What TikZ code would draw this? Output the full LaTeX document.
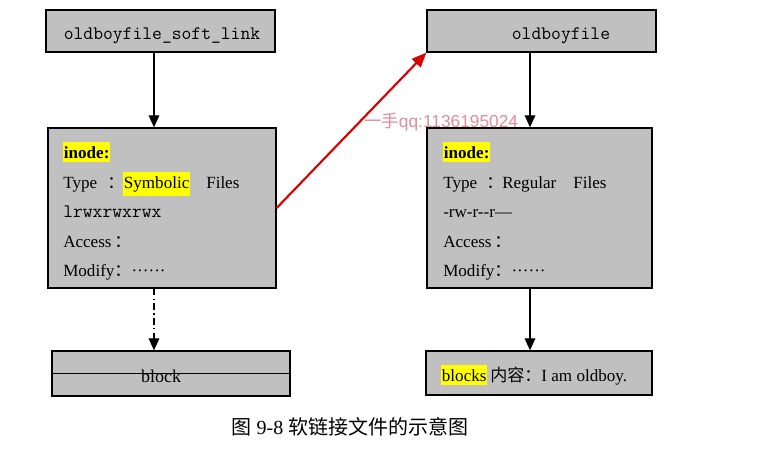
\documentclass[tikz,border=0pt]{standalone}
\usepackage{fontspec}
\setmainfont{Liberation Serif}
\newfontfamily\cjk{Noto Sans CJK SC}
\newfontfamily\wmfont{Liberation Sans}
\usetikzlibrary{arrows.meta}
\definecolor{boxgray}{RGB}{192,192,192}
\definecolor{wmpink}{RGB}{224,140,155}
\definecolor{hl}{RGB}{255,255,0}
\tikzset{
  box/.style={draw=black, line width=1pt, fill=boxgray, inner sep=0pt},
  arr/.style={line width=0.9pt, -{Triangle[length=9pt,width=8pt]}},
  txt/.style={anchor=base west, inner sep=0pt, font=\fontsize{12.8}{15}\selectfont},
  mono/.style={anchor=base west, inner sep=0pt, font=\fontsize{14.3}{16}\ttfamily},
  hlbox/.style={anchor=base west, fill=hl, inner xsep=0.5pt, inner ysep=3pt, font=\fontsize{12.8}{15}\selectfont},
}
\begin{document}
\begin{tikzpicture}[x=0.75pt,y=-0.75pt]
\path[use as bounding box, fill=white] (0,0) rectangle (777,450);

% boxes
\node[box, minimum width=171.75pt, minimum height=31.5pt] (tl) at (160.5,31) {};
\node[box, minimum width=171.75pt, minimum height=31.5pt] (tr) at (541.5,31) {};
\node[box, minimum width=171pt, minimum height=120pt] (ml) at (162,208) {};
\node[box, minimum width=168.75pt, minimum height=120pt] (mr) at (539.5,208) {};
\node[box, minimum width=178.5pt, minimum height=33.75pt] (bl) at (171,373.5) {};
\node[box, minimum width=169.5pt, minimum height=33pt] (br) at (539,373) {};
\draw[line width=1pt] (bl.west) -- (bl.east);

% box titles
\node[anchor=base, inner sep=0pt, font=\fontsize{14.3}{16}\ttfamily] (tlt) at (162,39) {oldboyfile\_soft\_link};
\node[anchor=base, inner sep=0pt, font=\fontsize{14.3}{16}\ttfamily] (trt) at (561,39) {oldboyfile};
\node[anchor=base, inner sep=0pt, font=\fontsize{13.5}{16}\selectfont] (blt) at (161,382) {block};

% left inode
\node[hlbox] (li1) at (63,158) {\textbf{inode:}};
\node[txt] (li2a) at (63,188) {Type};
\node[txt] (li2b) at (107,188) {\cjk ：};
\node[hlbox] (li2c) at (123,188) {Symbolic};
\node[txt] (li2d) at (206,188) {Files};
\node[mono] (li3) at (63,217) {lrwxrwxrwx};
\node[txt] (li4) at (63,247) {Access\,{\cjk ：}};
\node[txt] (li5) at (63,276) {Modify{\cjk ：}······};

% right inode
\node[hlbox] (ri1) at (443,158) {\textbf{inode:}};
\node[txt] (ri2a) at (443,188) {Type};
\node[txt] (ri2b) at (486,188) {\cjk ：};
\node[txt] (ri2c) at (502,188) {Regular};
\node[txt] (ri2d) at (573,188) {Files};
\node[txt] (ri3) at (443,217) {-rw-r{-}{-}r—};
\node[txt] (ri4) at (443,247) {Access\,{\cjk ：}};
\node[txt] (ri5) at (443,276) {Modify{\cjk ：}······};

% blocks right
\node[hlbox] (rb1) at (441,381) {blocks};
\node[txt] (rb2) at (490,381) {{\cjk 内容：}I am oldboy.};

% connectors
\coordinate (lx) at (154,0);
\coordinate (rx) at (530,0);
\draw[arr] (tl.south -| lx) -- (ml.north -| lx);
\draw[arr] (tr.south -| rx) -- (mr.north -| rx);
\draw[arr, dash pattern=on 5pt off 2.5pt on 1pt off 2.5pt] (ml.south -| lx) -- (bl.north -| lx);
\draw[arr] (mr.south -| rx) -- (br.north -| rx);
\draw[line width=1.6pt, red!85!black, -{Triangle[length=11pt,width=9pt]}] (ml.east) -- (tr.south west);

% watermark
\node[anchor=base west, inner sep=0pt, text=wmpink, font=\fontsize{13}{15}\selectfont] (wm) at (364,127) {{\cjk 一手}{\wmfont qq:1136195024}};

% caption
\node[anchor=base, inner sep=0pt, font=\fontsize{15}{17}\selectfont] (cap) at (350,434) {{\cjk 图} 9-8 {\cjk 软链接文件的示意图}};
\end{tikzpicture}
\end{document}
